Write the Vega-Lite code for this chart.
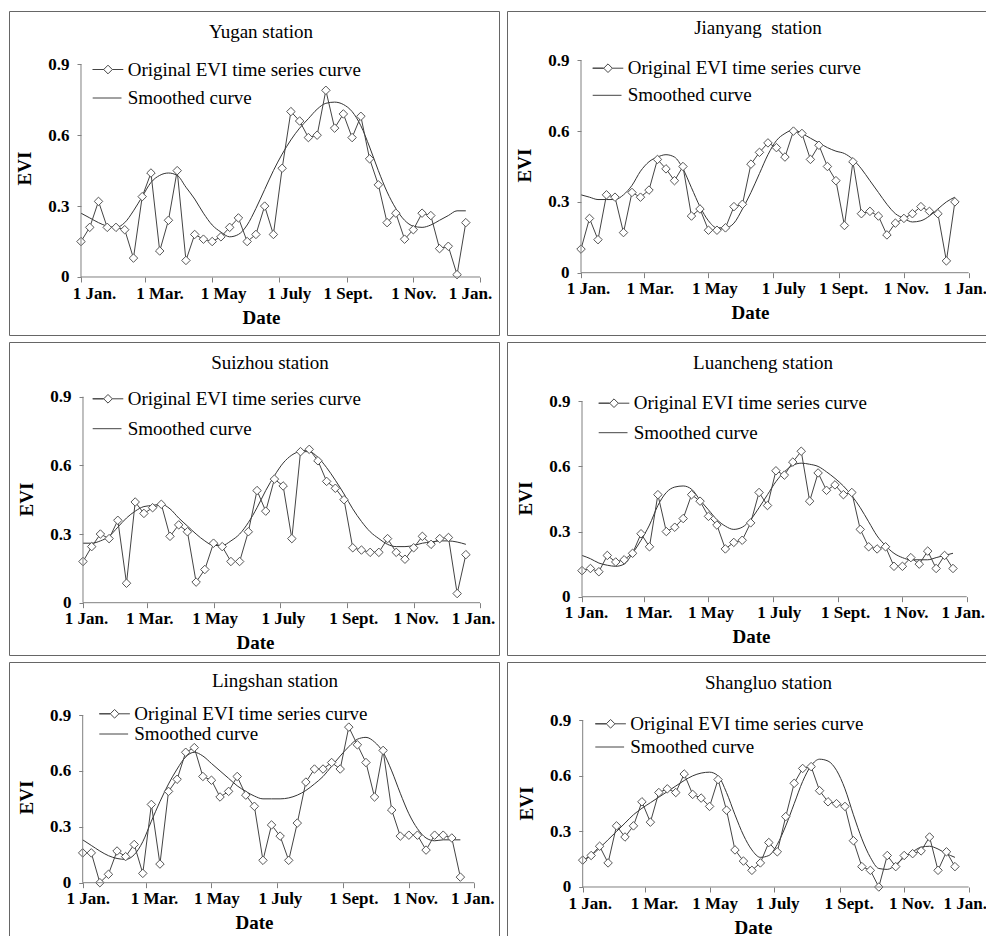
{
"$schema": "https://vega.github.io/schema/vega-lite/v6.json",
"background": "white",
"padding": {"left": 8, "top": 10, "right": 0, "bottom": 0},
"columns": 2,
"bounds": "flush",
"spacing": {"row": 7, "column": 8},
"datasets": {
"yugan": [
{"d":0,"o":0.15,"m":0.27},{"d":8,"o":0.21,"m":0.25},{"d":16,"o":0.32,"m":0.23},{"d":24,"o":0.21,"m":0.215},{"d":32,"o":0.21,"m":0.21},{"d":40,"o":0.20,"m":0.23},{"d":48,"o":0.08,"m":0.28},{"d":56,"o":0.34,"m":0.34},{"d":64,"o":0.44,"m":0.40},{"d":72,"o":0.11,"m":0.43},{"d":80,"o":0.24,"m":0.44},{"d":88,"o":0.45,"m":0.43},{"d":96,"o":0.07,"m":0.38},{"d":104,"o":0.18,"m":0.33},{"d":112,"o":0.16,"m":0.27},{"d":120,"o":0.15,"m":0.22},{"d":128,"o":0.17,"m":0.19},{"d":136,"o":0.21,"m":0.17},{"d":144,"o":0.25,"m":0.18},{"d":152,"o":0.15,"m":0.22},{"d":160,"o":0.18,"m":0.29},{"d":168,"o":0.30,"m":0.37},{"d":176,"o":0.18,"m":0.45},{"d":184,"o":0.46,"m":0.52},{"d":192,"o":0.70,"m":0.58},{"d":200,"o":0.66,"m":0.63},{"d":208,"o":0.59,"m":0.67},{"d":216,"o":0.60,"m":0.71},{"d":224,"o":0.79,"m":0.735},{"d":232,"o":0.63,"m":0.74},{"d":240,"o":0.69,"m":0.73},{"d":248,"o":0.59,"m":0.70},{"d":256,"o":0.68,"m":0.64},{"d":264,"o":0.50,"m":0.55},{"d":272,"o":0.39,"m":0.45},{"d":280,"o":0.23,"m":0.36},{"d":288,"o":0.27,"m":0.29},{"d":296,"o":0.16,"m":0.24},{"d":304,"o":0.20,"m":0.215},{"d":312,"o":0.27,"m":0.21},{"d":320,"o":0.26,"m":0.22},{"d":328,"o":0.12,"m":0.24},{"d":336,"o":0.13,"m":0.26},{"d":344,"o":0.01,"m":0.28},{"d":352,"o":0.23,"m":0.28}
],
"jianyang": [
{"d":0,"o":0.10,"m":0.33},{"d":8,"o":0.23,"m":0.32},{"d":16,"o":0.14,"m":0.31},{"d":24,"o":0.33,"m":0.31},{"d":32,"o":0.32,"m":0.31},{"d":40,"o":0.17,"m":0.33},{"d":48,"o":0.34,"m":0.37},{"d":56,"o":0.32,"m":0.43},{"d":64,"o":0.35,"m":0.47},{"d":72,"o":0.48,"m":0.49},{"d":80,"o":0.44,"m":0.50},{"d":88,"o":0.39,"m":0.49},{"d":96,"o":0.45,"m":0.44},{"d":104,"o":0.24,"m":0.36},{"d":112,"o":0.27,"m":0.28},{"d":120,"o":0.18,"m":0.22},{"d":128,"o":0.18,"m":0.19},{"d":136,"o":0.19,"m":0.19},{"d":144,"o":0.28,"m":0.21},{"d":152,"o":0.29,"m":0.27},{"d":160,"o":0.46,"m":0.34},{"d":168,"o":0.51,"m":0.42},{"d":176,"o":0.55,"m":0.50},{"d":184,"o":0.53,"m":0.56},{"d":192,"o":0.49,"m":0.59},{"d":200,"o":0.60,"m":0.605},{"d":208,"o":0.59,"m":0.59},{"d":216,"o":0.48,"m":0.57},{"d":224,"o":0.54,"m":0.55},{"d":232,"o":0.45,"m":0.53},{"d":240,"o":0.39,"m":0.515},{"d":248,"o":0.20,"m":0.505},{"d":256,"o":0.47,"m":0.48},{"d":264,"o":0.25,"m":0.44},{"d":272,"o":0.26,"m":0.39},{"d":280,"o":0.24,"m":0.34},{"d":288,"o":0.16,"m":0.29},{"d":296,"o":0.21,"m":0.25},{"d":304,"o":0.23,"m":0.23},{"d":312,"o":0.25,"m":0.215},{"d":320,"o":0.28,"m":0.22},{"d":328,"o":0.26,"m":0.24},{"d":336,"o":0.25,"m":0.27},{"d":344,"o":0.05,"m":0.30},{"d":352,"o":0.30,"m":0.32}
],
"suizhou": [
{"d":0,"o":0.18,"m":0.26},{"d":8,"o":0.245,"m":0.26},{"d":16,"o":0.30,"m":0.27},{"d":24,"o":0.28,"m":0.29},{"d":32,"o":0.36,"m":0.33},{"d":40,"o":0.085,"m":0.37},{"d":48,"o":0.44,"m":0.40},{"d":56,"o":0.39,"m":0.42},{"d":64,"o":0.415,"m":0.425},{"d":72,"o":0.43,"m":0.43},{"d":80,"o":0.29,"m":0.41},{"d":88,"o":0.34,"m":0.37},{"d":96,"o":0.31,"m":0.335},{"d":104,"o":0.09,"m":0.30},{"d":112,"o":0.145,"m":0.27},{"d":120,"o":0.26,"m":0.25},{"d":128,"o":0.245,"m":0.25},{"d":136,"o":0.18,"m":0.27},{"d":144,"o":0.18,"m":0.30},{"d":152,"o":0.31,"m":0.35},{"d":160,"o":0.49,"m":0.415},{"d":168,"o":0.40,"m":0.49},{"d":176,"o":0.54,"m":0.555},{"d":184,"o":0.51,"m":0.61},{"d":192,"o":0.28,"m":0.645},{"d":200,"o":0.66,"m":0.66},{"d":208,"o":0.67,"m":0.66},{"d":216,"o":0.62,"m":0.635},{"d":224,"o":0.53,"m":0.59},{"d":232,"o":0.50,"m":0.535},{"d":240,"o":0.45,"m":0.475},{"d":248,"o":0.24,"m":0.41},{"d":256,"o":0.23,"m":0.355},{"d":264,"o":0.22,"m":0.31},{"d":272,"o":0.22,"m":0.28},{"d":280,"o":0.28,"m":0.255},{"d":288,"o":0.22,"m":0.245},{"d":296,"o":0.19,"m":0.245},{"d":304,"o":0.24,"m":0.25},{"d":312,"o":0.29,"m":0.26},{"d":320,"o":0.255,"m":0.265},{"d":328,"o":0.28,"m":0.27},{"d":336,"o":0.285,"m":0.27},{"d":344,"o":0.04,"m":0.265},{"d":352,"o":0.21,"m":0.255}
],
"luancheng": [
{"d":0,"o":0.12,"m":0.19},{"d":8,"o":0.13,"m":0.175},{"d":16,"o":0.115,"m":0.155},{"d":24,"o":0.19,"m":0.145},{"d":32,"o":0.16,"m":0.14},{"d":40,"o":0.17,"m":0.15},{"d":48,"o":0.20,"m":0.20},{"d":56,"o":0.29,"m":0.26},{"d":64,"o":0.23,"m":0.33},{"d":72,"o":0.47,"m":0.42},{"d":80,"o":0.30,"m":0.48},{"d":88,"o":0.32,"m":0.505},{"d":96,"o":0.36,"m":0.51},{"d":104,"o":0.47,"m":0.495},{"d":112,"o":0.44,"m":0.445},{"d":120,"o":0.37,"m":0.40},{"d":128,"o":0.33,"m":0.355},{"d":136,"o":0.22,"m":0.325},{"d":144,"o":0.25,"m":0.31},{"d":152,"o":0.26,"m":0.32},{"d":160,"o":0.34,"m":0.355},{"d":168,"o":0.48,"m":0.41},{"d":176,"o":0.42,"m":0.47},{"d":184,"o":0.58,"m":0.53},{"d":192,"o":0.56,"m":0.575},{"d":200,"o":0.62,"m":0.605},{"d":208,"o":0.67,"m":0.615},{"d":216,"o":0.44,"m":0.61},{"d":224,"o":0.57,"m":0.60},{"d":232,"o":0.49,"m":0.575},{"d":240,"o":0.515,"m":0.545},{"d":248,"o":0.47,"m":0.51},{"d":256,"o":0.48,"m":0.465},{"d":264,"o":0.31,"m":0.41},{"d":272,"o":0.23,"m":0.345},{"d":280,"o":0.22,"m":0.28},{"d":288,"o":0.23,"m":0.235},{"d":296,"o":0.14,"m":0.20},{"d":304,"o":0.14,"m":0.18},{"d":312,"o":0.18,"m":0.17},{"d":320,"o":0.15,"m":0.17},{"d":328,"o":0.21,"m":0.17},{"d":336,"o":0.13,"m":0.18},{"d":344,"o":0.19,"m":0.19},{"d":352,"o":0.13,"m":0.20}
],
"lingshan": [
{"d":0,"o":0.16,"m":0.23},{"d":8,"o":0.16,"m":0.20},{"d":16,"o":0.00,"m":0.17},{"d":24,"o":0.045,"m":0.145},{"d":32,"o":0.17,"m":0.13},{"d":40,"o":0.14,"m":0.125},{"d":48,"o":0.205,"m":0.15},{"d":56,"o":0.05,"m":0.22},{"d":64,"o":0.42,"m":0.33},{"d":72,"o":0.10,"m":0.435},{"d":80,"o":0.49,"m":0.53},{"d":88,"o":0.555,"m":0.61},{"d":96,"o":0.70,"m":0.675},{"d":104,"o":0.725,"m":0.70},{"d":112,"o":0.57,"m":0.68},{"d":120,"o":0.55,"m":0.64},{"d":128,"o":0.46,"m":0.60},{"d":136,"o":0.49,"m":0.56},{"d":144,"o":0.57,"m":0.52},{"d":152,"o":0.47,"m":0.49},{"d":160,"o":0.41,"m":0.465},{"d":168,"o":0.12,"m":0.45},{"d":176,"o":0.31,"m":0.45},{"d":184,"o":0.25,"m":0.45},{"d":192,"o":0.12,"m":0.455},{"d":200,"o":0.32,"m":0.47},{"d":208,"o":0.54,"m":0.495},{"d":216,"o":0.61,"m":0.53},{"d":224,"o":0.61,"m":0.57},{"d":232,"o":0.645,"m":0.625},{"d":240,"o":0.61,"m":0.68},{"d":248,"o":0.835,"m":0.73},{"d":256,"o":0.74,"m":0.77},{"d":264,"o":0.645,"m":0.78},{"d":272,"o":0.46,"m":0.755},{"d":280,"o":0.71,"m":0.70},{"d":288,"o":0.39,"m":0.60},{"d":296,"o":0.25,"m":0.48},{"d":304,"o":0.255,"m":0.37},{"d":312,"o":0.255,"m":0.29},{"d":320,"o":0.175,"m":0.24},{"d":328,"o":0.255,"m":0.225},{"d":336,"o":0.255,"m":0.23},{"d":344,"o":0.24,"m":0.23},{"d":352,"o":0.03,"m":0.23}
],
"shangluo": [
{"d":0,"o":0.145,"m":0.14},{"d":8,"o":0.17,"m":0.17},{"d":16,"o":0.22,"m":0.21},{"d":24,"o":0.13,"m":0.255},{"d":32,"o":0.33,"m":0.30},{"d":40,"o":0.27,"m":0.345},{"d":48,"o":0.33,"m":0.39},{"d":56,"o":0.46,"m":0.425},{"d":64,"o":0.35,"m":0.455},{"d":72,"o":0.51,"m":0.485},{"d":80,"o":0.53,"m":0.515},{"d":88,"o":0.51,"m":0.545},{"d":96,"o":0.61,"m":0.575},{"d":104,"o":0.50,"m":0.60},{"d":112,"o":0.48,"m":0.615},{"d":120,"o":0.435,"m":0.62},{"d":128,"o":0.58,"m":0.60},{"d":136,"o":0.415,"m":0.51},{"d":144,"o":0.20,"m":0.39},{"d":152,"o":0.14,"m":0.28},{"d":160,"o":0.09,"m":0.20},{"d":168,"o":0.13,"m":0.16},{"d":176,"o":0.24,"m":0.17},{"d":184,"o":0.19,"m":0.23},{"d":192,"o":0.38,"m":0.33},{"d":200,"o":0.56,"m":0.45},{"d":208,"o":0.64,"m":0.57},{"d":216,"o":0.65,"m":0.655},{"d":224,"o":0.52,"m":0.69},{"d":232,"o":0.46,"m":0.68},{"d":240,"o":0.45,"m":0.63},{"d":248,"o":0.435,"m":0.53},{"d":256,"o":0.25,"m":0.39},{"d":264,"o":0.11,"m":0.26},{"d":272,"o":0.09,"m":0.16},{"d":280,"o":0.00,"m":0.10},{"d":288,"o":0.17,"m":0.095},{"d":296,"o":0.11,"m":0.12},{"d":304,"o":0.17,"m":0.16},{"d":312,"o":0.18,"m":0.19},{"d":320,"o":0.195,"m":0.215},{"d":328,"o":0.27,"m":0.22},{"d":336,"o":0.09,"m":0.205},{"d":344,"o":0.19,"m":0.18},{"d":352,"o":0.11,"m":0.16}
]
},
"concat": [
{
"data": {"name": "yugan"}, "width": 490, "height": 324,
"title": {"text": "Yugan station", "offset": -30.7, "dx": 7},
"layer": [
{"mark": {"type": "line", "interpolate": "monotone", "stroke": "#333333", "strokeWidth": 1},
 "encoding": {
  "x": {"field": "d", "type": "quantitative", "title": "Date", "scale": {"domain": [-65.86, 382.37], "nice": false, "zero": false},
        "axis": {"values": [0,59,120,181,243,304,365], "labelExpr": "['1 Jan.','1 Mar.','1 May','1 July','1 Sept.','1 Nov.','1 Jan.'][indexof([0,59,120,181,243,304,365], datum.value)]", "offset": -58, "titleX": 252,
                 "labelOffset": {"expr": "[13,14,11,10,1,0,-10][indexof([0,59,120,181,243,304,365], datum.value)]"}}},
  "y": {"field": "m", "type": "quantitative", "title": "EVI", "scale": {"domain": [-0.2455, 1.1256], "nice": false, "zero": false},
        "axis": {"values": [0,0.3,0.6,0.9], "labelExpr": "datum.value == 0 ? '0' : format(datum.value, '.1f')", "offset": -72, "titleY": 157}}
 }},
{"mark": {"type": "line", "stroke": "#444444", "strokeWidth": 1},
 "encoding": {"x": {"field": "d", "type": "quantitative", "title": "Date"}, "y": {"field": "o", "type": "quantitative", "title": "EVI"}}},
{"mark": {"type": "point", "shape": "diamond", "filled": true, "fill": "white", "stroke": "#555555", "strokeWidth": 1, "size": 72, "opacity": 1},
 "encoding": {"x": {"field": "d", "type": "quantitative", "title": "Date"}, "y": {"field": "o", "type": "quantitative", "title": "EVI"}}},
{"transform": [{"fold": ["o", "m"], "as": ["s", "v"]}],
 "mark": {"type": "point", "opacity": 0},
 "encoding": {"x": {"field": "d", "type": "quantitative", "title": "Date"}, "y": {"field": "v", "type": "quantitative", "title": "EVI"},
  "shape": {"field": "s", "type": "nominal", "scale": {"domain": ["o", "m"], "range": ["M-1.7,0H-0.48L0,-0.48L0.48,0L0,0.48L-0.48,0ZM0.48,0H1.7", "M-1.7,0H1.5"]},
   "legend": {"title": null, "orient": "none", "legendX": 89.5, "legendY": 49, "rowPadding": 8.5,
     "labelExpr": "datum.label == 'o' ? 'Original EVI time series curve' : 'Smoothed curve'",
     "encode": {"symbols": {"fill": {"value": "white"}, "stroke": {"value": "#444444"}, "strokeWidth": {"value": 1}, "opacity": {"value": 1}}}}}}},
{"data": {"values": [{}]}, "mark": {"type": "rule", "stroke": "#808080", "strokeWidth": 1},
 "encoding": {"x": {"datum": 0, "type": "quantitative"}, "y": {"datum": 0, "type": "quantitative"}, "y2": {"datum": 0.9}}},
{"data": {"values": [{}]}, "mark": {"type": "rule", "stroke": "#808080", "strokeWidth": 1},
 "encoding": {"x": {"datum": 0, "type": "quantitative"}, "x2": {"datum": 365}, "y": {"datum": 0, "type": "quantitative"}}}
]
},
{
"data": {"name": "jianyang"}, "width": 490, "height": 324,
"title": {"text": "Jianyang\u00a0 station", "offset": -26.7, "dx": 6},
"layer": [
{"mark": {"type": "line", "interpolate": "monotone", "stroke": "#333333", "strokeWidth": 1},
 "encoding": {
  "x": {"field": "d", "type": "quantitative", "title": "Date", "scale": {"domain": [-69.67, 391.64], "nice": false, "zero": false},
        "axis": {"values": [0,59,120,181,243,304,365], "labelExpr": "['1 Jan.','1 Mar.','1 May','1 July','1 Sept.','1 Nov.','1 Jan.'][indexof([0,59,120,181,243,304,365], datum.value)]", "offset": -62.3, "titleX": 243,
                 "labelOffset": {"expr": "[7,6,6,10,4,2,-4][indexof([0,59,120,181,243,304,365], datum.value)]"}}},
  "y": {"field": "m", "type": "quantitative", "title": "EVI", "scale": {"domain": [-0.264, 1.1089], "nice": false, "zero": false},
        "axis": {"values": [0,0.3,0.6,0.9], "labelExpr": "datum.value == 0 ? '0' : format(datum.value, '.1f')", "offset": -74, "titleY": 154}}
 }},
{"mark": {"type": "line", "stroke": "#444444", "strokeWidth": 1},
 "encoding": {"x": {"field": "d", "type": "quantitative", "title": "Date"}, "y": {"field": "o", "type": "quantitative", "title": "EVI"}}},
{"mark": {"type": "point", "shape": "diamond", "filled": true, "fill": "white", "stroke": "#555555", "strokeWidth": 1, "size": 72, "opacity": 1},
 "encoding": {"x": {"field": "d", "type": "quantitative", "title": "Date"}, "y": {"field": "o", "type": "quantitative", "title": "EVI"}}},
{"transform": [{"fold": ["o", "m"], "as": ["s", "v"]}],
 "mark": {"type": "point", "opacity": 0},
 "encoding": {"x": {"field": "d", "type": "quantitative", "title": "Date"}, "y": {"field": "v", "type": "quantitative", "title": "EVI"},
  "shape": {"field": "s", "type": "nominal", "scale": {"domain": ["o", "m"], "range": ["M-1.7,0H-0.48L0,-0.48L0.48,0L0,0.48L-0.48,0ZM0.48,0H1.7", "M-1.7,0H1.5"]},
   "legend": {"title": null, "orient": "none", "legendX": 91.5, "legendY": 47.7, "rowPadding": 7.1,
     "labelExpr": "datum.label == 'o' ? 'Original EVI time series curve' : 'Smoothed curve'",
     "encode": {"symbols": {"fill": {"value": "white"}, "stroke": {"value": "#444444"}, "strokeWidth": {"value": 1}, "opacity": {"value": 1}}}}}}},
{"data": {"values": [{}]}, "mark": {"type": "rule", "stroke": "#808080", "strokeWidth": 1},
 "encoding": {"x": {"datum": 0, "type": "quantitative"}, "y": {"datum": 0, "type": "quantitative"}, "y2": {"datum": 0.9}}},
{"data": {"values": [{}]}, "mark": {"type": "rule", "stroke": "#808080", "strokeWidth": 1},
 "encoding": {"x": {"datum": 0, "type": "quantitative"}, "x2": {"datum": 365}, "y": {"datum": 0, "type": "quantitative"}}}
]
},
{
"data": {"name": "suizhou"}, "width": 490, "height": 313,
"title": {"text": "Suizhou station", "offset": -31.3, "dx": 16},
"layer": [
{"mark": {"type": "line", "interpolate": "monotone", "stroke": "#333333", "strokeWidth": 1},
 "encoding": {
  "x": {"field": "d", "type": "quantitative", "title": "Date", "scale": {"domain": [-68.03, 382.46], "nice": false, "zero": false},
        "axis": {"values": [0,59,120,181,243,304,365], "labelExpr": "['1 Jan.','1 Mar.','1 May','1 July','1 Sept.','1 Nov.','1 Jan.'][indexof([0,59,120,181,243,304,365], datum.value)]", "offset": -52.3, "titleX": 246,
                 "labelOffset": {"expr": "[3,2,1,3,6,2,-7][indexof([0,59,120,181,243,304,365], datum.value)]"}}},
  "y": {"field": "m", "type": "quantitative", "title": "EVI", "scale": {"domain": [-0.2285, 1.139], "nice": false, "zero": false},
        "axis": {"values": [0,0.3,0.6,0.9], "labelExpr": "datum.value == 0 ? '0' : format(datum.value, '.1f')", "offset": -74, "titleY": 157}}
 }},
{"mark": {"type": "line", "stroke": "#444444", "strokeWidth": 1},
 "encoding": {"x": {"field": "d", "type": "quantitative", "title": "Date"}, "y": {"field": "o", "type": "quantitative", "title": "EVI"}}},
{"mark": {"type": "point", "shape": "diamond", "filled": true, "fill": "white", "stroke": "#555555", "strokeWidth": 1, "size": 72, "opacity": 1},
 "encoding": {"x": {"field": "d", "type": "quantitative", "title": "Date"}, "y": {"field": "o", "type": "quantitative", "title": "EVI"}}},
{"transform": [{"fold": ["o", "m"], "as": ["s", "v"]}],
 "mark": {"type": "point", "opacity": 0},
 "encoding": {"x": {"field": "d", "type": "quantitative", "title": "Date"}, "y": {"field": "v", "type": "quantitative", "title": "EVI"},
  "shape": {"field": "s", "type": "nominal", "scale": {"domain": ["o", "m"], "range": ["M-1.7,0H-0.48L0,-0.48L0.48,0L0,0.48L-0.48,0ZM0.48,0H1.7", "M-1.7,0H1.5"]},
   "legend": {"title": null, "orient": "none", "legendX": 89.5, "legendY": 47.3, "rowPadding": 9.9,
     "labelExpr": "datum.label == 'o' ? 'Original EVI time series curve' : 'Smoothed curve'",
     "encode": {"symbols": {"fill": {"value": "white"}, "stroke": {"value": "#444444"}, "strokeWidth": {"value": 1}, "opacity": {"value": 1}}}}}}},
{"data": {"values": [{}]}, "mark": {"type": "rule", "stroke": "#808080", "strokeWidth": 1},
 "encoding": {"x": {"datum": 0, "type": "quantitative"}, "y": {"datum": 0, "type": "quantitative"}, "y2": {"datum": 0.9}}},
{"data": {"values": [{}]}, "mark": {"type": "rule", "stroke": "#808080", "strokeWidth": 1},
 "encoding": {"x": {"datum": 0, "type": "quantitative"}, "x2": {"datum": 365}, "y": {"datum": 0, "type": "quantitative"}}}
]
},
{
"data": {"name": "luancheng"}, "width": 490, "height": 313,
"title": {"text": "Luancheng station", "offset": -30.7, "dx": 11},
"layer": [
{"mark": {"type": "line", "interpolate": "monotone", "stroke": "#333333", "strokeWidth": 1},
 "encoding": {
  "x": {"field": "d", "type": "quantitative", "title": "Date", "scale": {"domain": [-71.16, 393.74], "nice": false, "zero": false},
        "axis": {"values": [0,59,120,181,243,304,365], "labelExpr": "['1 Jan.','1 Mar.','1 May','1 July','1 Sept.','1 Nov.','1 Jan.'][indexof([0,59,120,181,243,304,365], datum.value)]", "offset": -58.3, "titleX": 244,
                 "labelOffset": {"expr": "[4,4,2,6,7,3,-4][indexof([0,59,120,181,243,304,365], datum.value)]"}}},
  "y": {"field": "m", "type": "quantitative", "title": "EVI", "scale": {"domain": [-0.2685, 1.1731], "nice": false, "zero": false},
        "axis": {"values": [0,0.3,0.6,0.9], "labelExpr": "datum.value == 0 ? '0' : format(datum.value, '.1f')", "offset": -75, "titleY": 156}}
 }},
{"mark": {"type": "line", "stroke": "#444444", "strokeWidth": 1},
 "encoding": {"x": {"field": "d", "type": "quantitative", "title": "Date"}, "y": {"field": "o", "type": "quantitative", "title": "EVI"}}},
{"mark": {"type": "point", "shape": "diamond", "filled": true, "fill": "white", "stroke": "#555555", "strokeWidth": 1, "size": 72, "opacity": 1},
 "encoding": {"x": {"field": "d", "type": "quantitative", "title": "Date"}, "y": {"field": "o", "type": "quantitative", "title": "EVI"}}},
{"transform": [{"fold": ["o", "m"], "as": ["s", "v"]}],
 "mark": {"type": "point", "opacity": 0},
 "encoding": {"x": {"field": "d", "type": "quantitative", "title": "Date"}, "y": {"field": "v", "type": "quantitative", "title": "EVI"},
  "shape": {"field": "s", "type": "nominal", "scale": {"domain": ["o", "m"], "range": ["M-1.7,0H-0.48L0,-0.48L0.48,0L0,0.48L-0.48,0ZM0.48,0H1.7", "M-1.7,0H1.5"]},
   "legend": {"title": null, "orient": "none", "legendX": 97.5, "legendY": 51.7, "rowPadding": 9.5,
     "labelExpr": "datum.label == 'o' ? 'Original EVI time series curve' : 'Smoothed curve'",
     "encode": {"symbols": {"fill": {"value": "white"}, "stroke": {"value": "#444444"}, "strokeWidth": {"value": 1}, "opacity": {"value": 1}}}}}}},
{"data": {"values": [{}]}, "mark": {"type": "rule", "stroke": "#808080", "strokeWidth": 1},
 "encoding": {"x": {"datum": 0, "type": "quantitative"}, "y": {"datum": 0, "type": "quantitative"}, "y2": {"datum": 0.9}}},
{"data": {"values": [{}]}, "mark": {"type": "rule", "stroke": "#808080", "strokeWidth": 1},
 "encoding": {"x": {"datum": 0, "type": "quantitative"}, "x2": {"datum": 365}, "y": {"datum": 0, "type": "quantitative"}}}
]
},
{
"data": {"name": "lingshan"}, "width": 490, "height": 290,
"title": {"text": "Lingshan station", "offset": -28.7, "dx": 21},
"layer": [
{"mark": {"type": "line", "interpolate": "monotone", "stroke": "#333333", "strokeWidth": 1},
 "encoding": {
  "x": {"field": "d", "type": "quantitative", "title": "Date", "scale": {"domain": [-68.69, 388.0], "nice": false, "zero": false},
        "axis": {"values": [0,59,120,181,243,304,365], "labelExpr": "['1 Jan.','1 Mar.','1 May','1 July','1 Sept.','1 Nov.','1 Jan.'][indexof([0,59,120,181,243,304,365], datum.value)]", "offset": -69.3, "titleX": 245,
                 "labelOffset": {"expr": "[5,8,5,3,10,6,-2][indexof([0,59,120,181,243,304,365], datum.value)]"}}},
  "y": {"field": "m", "type": "quantitative", "title": "EVI", "scale": {"domain": [-0.372, 1.1845], "nice": false, "zero": false},
        "axis": {"values": [0,0.3,0.6,0.9], "labelExpr": "datum.value == 0 ? '0' : format(datum.value, '.1f')", "offset": -73.7, "titleY": 135}}
 }},
{"mark": {"type": "line", "stroke": "#444444", "strokeWidth": 1},
 "encoding": {"x": {"field": "d", "type": "quantitative", "title": "Date"}, "y": {"field": "o", "type": "quantitative", "title": "EVI"}}},
{"mark": {"type": "point", "shape": "diamond", "filled": true, "fill": "white", "stroke": "#555555", "strokeWidth": 1, "size": 72, "opacity": 1},
 "encoding": {"x": {"field": "d", "type": "quantitative", "title": "Date"}, "y": {"field": "o", "type": "quantitative", "title": "EVI"}}},
{"transform": [{"fold": ["o", "m"], "as": ["s", "v"]}],
 "mark": {"type": "point", "opacity": 0},
 "encoding": {"x": {"field": "d", "type": "quantitative", "title": "Date"}, "y": {"field": "v", "type": "quantitative", "title": "EVI"},
  "shape": {"field": "s", "type": "nominal", "scale": {"domain": ["o", "m"], "range": ["M-1.7,0H-0.48L0,-0.48L0.48,0L0,0.48L-0.48,0ZM0.48,0H1.7", "M-1.7,0H1.5"]},
   "legend": {"title": null, "orient": "none", "legendX": 96.1, "legendY": 42.3, "rowPadding": 0.2,
     "labelExpr": "datum.label == 'o' ? 'Original EVI time series curve' : 'Smoothed curve'",
     "encode": {"symbols": {"fill": {"value": "white"}, "stroke": {"value": "#444444"}, "strokeWidth": {"value": 1}, "opacity": {"value": 1}}}}}}},
{"data": {"values": [{}]}, "mark": {"type": "rule", "stroke": "#808080", "strokeWidth": 1},
 "encoding": {"x": {"datum": 0, "type": "quantitative"}, "y": {"datum": 0, "type": "quantitative"}, "y2": {"datum": 0.9}}},
{"data": {"values": [{}]}, "mark": {"type": "rule", "stroke": "#808080", "strokeWidth": 1},
 "encoding": {"x": {"datum": 0, "type": "quantitative"}, "x2": {"datum": 365}, "y": {"datum": 0, "type": "quantitative"}}}
]
},
{
"data": {"name": "shangluo"}, "width": 490, "height": 290,
"title": {"text": "Shangluo station", "offset": -30.7, "dx": 16.5},
"layer": [
{"mark": {"type": "line", "interpolate": "monotone", "stroke": "#333333", "strokeWidth": 1},
 "encoding": {
  "x": {"field": "d", "type": "quantitative", "title": "Date", "scale": {"domain": [-71.58, 391.77], "nice": false, "zero": false},
        "axis": {"values": [0,59,120,181,243,304,365], "labelExpr": "['1 Jan.','1 Mar.','1 May','1 July','1 Sept.','1 Nov.','1 Jan.'][indexof([0,59,120,181,243,304,365], datum.value)]", "offset": -65, "titleX": 246,
                 "labelOffset": {"expr": "[7,9,5,3,9,7,-4][indexof([0,59,120,181,243,304,365], datum.value)]"}}},
  "y": {"field": "m", "type": "quantitative", "title": "EVI", "scale": {"domain": [-0.351, 1.2148], "nice": false, "zero": false},
        "axis": {"values": [0,0.3,0.6,0.9], "labelExpr": "datum.value == 0 ? '0' : format(datum.value, '.1f')", "offset": -75.7, "titleY": 141}}
 }},
{"mark": {"type": "line", "stroke": "#444444", "strokeWidth": 1},
 "encoding": {"x": {"field": "d", "type": "quantitative", "title": "Date"}, "y": {"field": "o", "type": "quantitative", "title": "EVI"}}},
{"mark": {"type": "point", "shape": "diamond", "filled": true, "fill": "white", "stroke": "#555555", "strokeWidth": 1, "size": 72, "opacity": 1},
 "encoding": {"x": {"field": "d", "type": "quantitative", "title": "Date"}, "y": {"field": "o", "type": "quantitative", "title": "EVI"}}},
{"transform": [{"fold": ["o", "m"], "as": ["s", "v"]}],
 "mark": {"type": "point", "opacity": 0},
 "encoding": {"x": {"field": "d", "type": "quantitative", "title": "Date"}, "y": {"field": "v", "type": "quantitative", "title": "EVI"},
  "shape": {"field": "s", "type": "nominal", "scale": {"domain": ["o", "m"], "range": ["M-1.7,0H-0.48L0,-0.48L0.48,0L0,0.48L-0.48,0ZM0.48,0H1.7", "M-1.7,0H1.5"]},
   "legend": {"title": null, "orient": "none", "legendX": 94.1, "legendY": 52.3, "rowPadding": 3.2,
     "labelExpr": "datum.label == 'o' ? 'Original EVI time series curve' : 'Smoothed curve'",
     "encode": {"symbols": {"fill": {"value": "white"}, "stroke": {"value": "#444444"}, "strokeWidth": {"value": 1}, "opacity": {"value": 1}}}}}}},
{"data": {"values": [{}]}, "mark": {"type": "rule", "stroke": "#808080", "strokeWidth": 1},
 "encoding": {"x": {"datum": 0, "type": "quantitative"}, "y": {"datum": 0, "type": "quantitative"}, "y2": {"datum": 0.9}}},
{"data": {"values": [{}]}, "mark": {"type": "rule", "stroke": "#808080", "strokeWidth": 1},
 "encoding": {"x": {"datum": 0, "type": "quantitative"}, "x2": {"datum": 365}, "y": {"datum": 0, "type": "quantitative"}}}
]
}
],
"resolve": {"scale": {"x": "independent", "y": "independent", "shape": "independent"}, "legend": {"shape": "independent"}},
"config": {
 "font": "Liberation Serif",
 "view": {"stroke": "#666666", "strokeWidth": 1},
 "axis": {"grid": false, "domain": false, "ticks": true, "tickColor": "#808080", "tickWidth": 1,
   "labelFont": "Liberation Serif", "labelFontSize": 17, "labelFontWeight": "bold", "labelColor": "#000000",
   "titleFont": "Liberation Serif", "titleFontSize": 19, "titleFontWeight": "bold", "titleColor": "#000000",
   "labelOverlap": false, "labelFlush": false},
 "axisX": {"tickSize": 5, "labelPadding": 3, "titlePadding": 7},
 "axisY": {"tickSize": 4, "labelPadding": 8, "titlePadding": 13},
 "title": {"font": "Liberation Serif", "fontSize": 19, "fontWeight": "normal", "color": "#000000", "frame": "group", "anchor": "middle"},
 "legend": {"padding": 0, "labelFont": "Liberation Serif", "labelFontSize": 19, "labelColor": "#000000", "labelOffset": 10.2,
   "symbolSize": 324, "symbolStrokeWidth": 1, "symbolStrokeColor": "#444444", "symbolFillColor": "#ffffff", "symbolOpacity": 1, "labelLimit": 400}
}
}
